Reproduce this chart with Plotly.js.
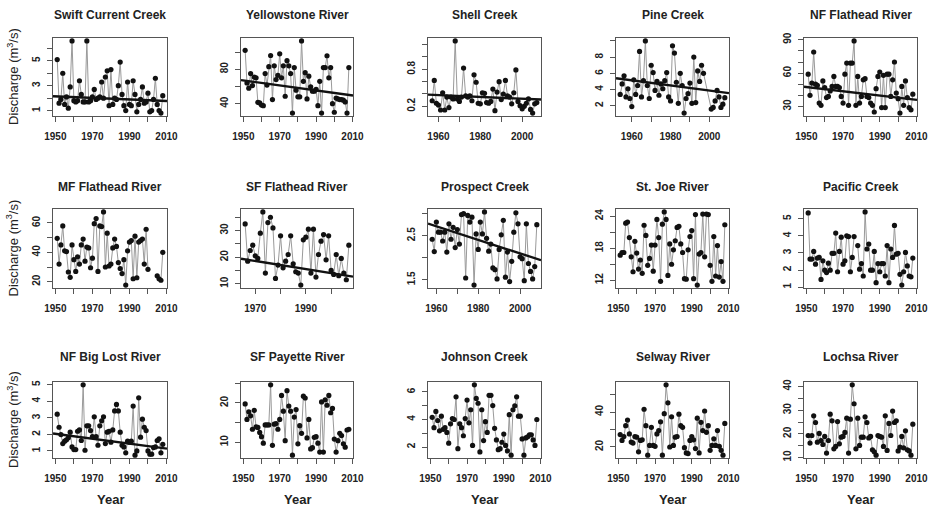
<!DOCTYPE html>
<html><head><meta charset="utf-8">
<script src="https://cdn.plot.ly/plotly-3.0.1.min.js"></script>
<style>html,body{margin:0;padding:0;background:#fff}#chart{width:935px;height:509px}</style>
</head><body><div id="chart"></div>
<script>
// ---------------- DATA ----------------
const siteNames = ["Swift Current Creek","Yellowstone River","Shell Creek","Pine Creek","NF Flathead River",
  "MF Flathead River","SF Flathead River","Prospect Creek","St. Joe River","Pacific Creek",
  "NF Big Lost River","SF Payette River","Johnson Creek","Selway River","Lochsa River"];

const swiftStart = 1951;
const swiftQ = [5.1,1.6,1.9,4.0,1.5,2.1,1.2,2.9,6.6,1.8,1.7,1.8,3.4,2.3,1.7,1.7,6.6,1.7,1.8,2.1,2.7,1.9,2.0,2.1,3.3,2.0,3.7,4.2,1.4,4.3,1.5,2.0,1.9,3.0,4.9,2.3,1.4,1.0,3.3,1.5,1.4,3.4,2.3,0.9,1.5,1.9,2.9,1.6,1.7,2.4,0.9,1.0,1.9,3.6,1.5,1.0,0.8,2.2];
const swiftTrendYears = [1950, 2010], swiftTrendQ = [2.15, 1.77];

const yellowStart = 1951;
const yellowQ = [102,64,58,75,61,71,70,41.6,40.8,38.4,37.6,75,61.6,83,96,44.7,84,68,73,98,70,84,48.6,90,84,75,29,82,55.7,48,48,113,66,76,45.5,72,59.6,54.5,54.5,56.5,37.6,66,29,82,82,95.7,70,82,40,30,46.6,45.5,44.7,44.7,44,42,29,82];
const yellowTrendYears = [1950, 2010], yellowTrendQ = [67, 49.5];

const shellStart = 1957;
const shellQ = [0.29,0.62,0.25,0.22,0.14,0.42,0.14,0.35,0.18,0.35,0.32,1.26,0.32,0.28,0.35,0.82,0.37,0.35,0.37,0.29,0.71,0.59,0.25,0.24,0.42,0.41,0.26,0.25,0.28,0.48,0.13,0.43,0.60,0.31,0.40,0.62,0.37,0.35,0.24,0.42,0.79,0.28,0.21,0.16,0.20,0.25,0.32,0.15,0.09,0.24,0.26];
const shellTrendYears = [1955, 2009], shellTrendQ = [0.39, 0.31];

const pineStartA = 1954, pineStartB = 2001;
const pineQ = [3.4,4.7,5.7,3.1,4.1,2.9,1.9,5.2,3.4,4.5,8.7,3.1,5.1,10.0,4.5,2.9,7.0,6.1,3.9,5.0,3.3,4.7,4.1,5.1,6.1,3.1,2.6,9.4,8.5,4.9,2.3,6.0,4.5,1.1,2.9,3.5,4.8,2.3,8.0,2.4,6.3,5.0,7.0,6.0,
               1.6,1.8,2.6,3.9,3.1,1.8,2.2,3.0];
const pineTrendYears = [1952, 2009], pineTrendQ = [5.4, 3.6];

const nfFlatStart = 1951;
const nfFlatQ = [59,40,51,79,50,49,33,31,53,47,38,39,44,48,57,48,48,47,39,33,59,69,31,69,69,89,31,57,33,39,54,55,39,38,33,31,25,46,57,61,29,58,29,59,59,39,54,70,42,37,24,48,31,53,38,29,27,41];
const nfFlatTrendYears = [1950, 2010], nfFlatTrendQ = [47.5, 36];

const mfFlatStart = 1951;
const mfFlatQ = [49.5,32,45,58,41,40.5,26.6,23,45,35,27,37,32,45,49,34,43.6,43,29.5,36,59.5,63,27,58,57.5,67.5,30,53,30.7,32,43,49,44,33,29,25.5,35,17.7,41,47,48,22,51,22.7,47,48,49,32,55.7,28.4,null,null,null,null,24,22,21,40];

const sfFlatStart = 1966;
const sfFlatQ = [32.5,18.5,22.5,24.5,20.5,19.5,29,37,14,33,35,31,12,17,28,16,18.5,21,28,17.5,14.5,14,9.5,26.5,27.5,30.5,14,30.5,12.5,21,26,28.5,19,28,15,13.5,21,13,19.5,14,11.5,24.5];
const sfFlatTrendYears = [1965, 2009], sfFlatTrendQ = [19.3, 12.6];

const prospectStart = 1958;
const prospectQ = [2.42,2.14,2.81,2.58,2.58,2.38,2.58,2.13,2.77,2.42,2.69,2.23,2.64,2.31,2.98,3.0,1.54,2.96,2.81,2.92,1.38,2.54,2.19,2.81,2.54,3.04,2.44,2.15,2.31,1.77,1.73,1.52,2.19,2.52,2.85,1.56,2.13,1.46,1.92,2.58,3.02,2.77,2.02,1.98,1.48,2.77,1.87,1.69,1.52,1.8,2.75];
const prospectTrendYears = [1957, 2009], prospectTrendQ = [2.76, 1.96];

const stJoeStart = 1951;
const stJoeQ = [16.7,17.2,17.2,22.7,22.9,20.0,16.4,13.6,19.3,17.1,14.1,15.8,13.3,22.3,20.4,14.8,16.1,18.6,13.7,18.6,23.4,20.0,11.8,22.5,24.8,23.4,12.9,18.8,15.0,17.7,19.4,21.9,22.1,18.8,17.2,12.3,12.2,17.7,20.2,21.3,12.3,24.3,11.1,16.9,17.2,24.4,16.4,24.4,24.3,14.8,11.8,20.2,12.8,18.5,12.6,15.5,11.8,22.4];

const pacificStart = 1951;
const pacificQ = [5.34,2.64,2.64,3.09,2.34,2.7,2.74,1.45,2.54,1.99,1.85,2.4,1.99,2.97,2.97,4.16,1.9,3.09,3.92,2.34,2.54,4.0,3.96,1.9,2.74,3.96,null,3.43,2.05,2.38,1.65,5.4,3.23,3.52,1.99,1.99,3.09,1.26,2.38,1.9,2.38,2.38,1.65,3.43,1.26,3.23,2.74,4.61,2.93,2.97,1.75,1.12,1.9,3.03,2.24,1.65,1.6,2.7];

const bigLostStart = 1951;
const bigLostQ = [3.22,2.43,1.99,1.44,1.59,1.67,1.79,2.13,1.24,1.08,1.08,2.19,2.27,1.63,5.0,1.04,2.52,2.52,2.23,1.87,3.06,1.87,1.34,2.52,2.82,3.06,1.44,2.13,2.19,1.53,2.27,3.42,3.81,3.42,2.13,1.34,1.24,0.88,1.59,1.53,1.59,3.71,0.74,1.0,4.21,1.83,2.92,2.43,2.23,1.0,0.8,0.8,1.2,1.24,1.63,1.73,0.88,1.4];
const bigLostTrendYears = [1950, 2010], bigLostTrendQ = [2.03, 1.14];

const payetteStart = 1951;
const payetteQ = [19.75,15.8,17.75,16.7,13.3,18.1,13.9,13.75,12.5,11.4,9.75,14.4,14.4,14.4,24.6,9.2,14.6,14.75,13.3,15.8,21.9,17.9,10.4,23.1,19.2,17.9,6.7,16.4,18.3,9.6,14.2,12.25,21.7,21.25,11.1,15.8,8.3,8.6,11.25,11.4,9.75,7.5,20.25,7.5,20.8,19.4,21.9,17.5,18.6,10.8,7.5,10.4,12.25,11.7,9.6,8.75,13.1,13.3];

const johnsonStart = 1951;
const johnsonQ = [4.16,3.41,4.59,3.93,3.18,4.24,3.29,3.41,3.06,2.28,3.69,4.07,4.0,5.65,1.88,3.69,3.41,2.82,4.07,5.41,3.76,4.71,2.12,6.52,5.53,5.18,1.65,4.71,2.47,3.84,3.06,5.76,5.76,5.01,3.36,2.52,1.81,1.88,2.35,2.94,2.12,1.72,4.35,1.41,4.71,5.0,5.65,4.24,4.24,2.59,1.41,2.66,2.75,2.89,2.89,2.52,2.12,4.0];

const selwayStart = 1951;
const selwayQ = [27.1,23.75,26,32.2,35.4,27.5,22.8,22.25,26,25.6,17.2,23.75,24.1,41.6,32.2,15.3,20.9,31.25,20.9,20.4,27.5,29.4,34.4,15.3,39.1,55.6,45.3,20,37.3,20.9,25.6,26,38.8,32.2,31.25,19.6,16.6,16.25,23.75,26,24.1,19.1,36.5,16.6,34.1,29.4,40.6,28.4,32.2,18.1,20.9,24.7,20.9,29.4,20.4,18.1,15.3,33.5];

const lochsaStart = 1951;
const lochsaQ = [19.3,16.1,19.3,27.6,24.8,16.5,20.2,17.2,15.5,18.9,11.9,17.2,28.3,25.5,13.7,14.7,25.2,15.8,18.6,18.9,20.6,26.6,11.9,26.2,40.7,32.7,13.7,26.6,15.1,18.6,18.6,27.2,24.8,18.3,18.9,13.3,12.4,11.0,19.3,18.9,18.6,14.7,27.6,13.0,24.4,19.3,29.6,24.8,25.5,12.8,14.4,18.9,14.1,21.3,13.3,12.8,11.0,24.1];

// tick values and labels
const xTicksStd = [1950,1960,1970,1980,1990,2000,2010], xLabelsStd = ["1950","","1970","","1990","","2010"];
const xTicks60 = [1960,1970,1980,1990,2000], xLabels60 = ["1960","","1980","","2000"];
const xTicks70 = [1970,1980,1990,2000], xLabels70 = ["1970","","1990",""];

const swiftYT = [1,2,3,4,5,6], swiftYL = ["1","","3","","5",""];
const yellowYT = [40,60,80,100], yellowYL = ["40","","80",""];
const shellYT = [0.2,0.4,0.6,0.8,1.0,1.2], shellYL = ["0.2","","","0.8","",""];
const pineYT = [2,4,6,8,10], pineYL = ["2","4","6","8",""];
const nfFlatYT = [30,40,50,60,70,80,90], nfFlatYL = ["30","","","60","","","90"];
const mfFlatYT = [20,30,40,50,60], mfFlatYL = ["20","","40","","60"];
const sfFlatYT = [10,15,20,25,30,35], sfFlatYL = ["10","","20","","30",""];
const prospectYT = [1.5,2.0,2.5,3.0], prospectYL = ["1.5","","2.5",""];
const stJoeYT = [12,15,18,21,24], stJoeYL = ["12","","18","","24"];
const pacificYT = [1,2,3,4,5], pacificYL = ["1","2","3","4","5"];
const bigLostYT = [1,2,3,4,5], bigLostYL = ["1","2","3","4","5"];
const payetteYT = [10,15,20,25], payetteYL = ["10","","20",""];
const johnsonYT = [2,3,4,5,6], johnsonYL = ["2","","4","","6"];
const selwayYT = [20,30,40,50], selwayYL = ["20","","40",""];
const lochsaYT = [10,15,20,25,30,35,40], lochsaYL = ["10","","20","","30","","40"];

const yLabelText = "Discharge (m<sup>3</sup>/s)";
const xLabelText = "Year";

// ---------------- BUILD ----------------
function yrs(start, n){ const a=[]; for(let i=0;i<n;i++) a.push(start+i); return a; }
const pineYears = yrs(pineStartA, 44).concat(yrs(pineStartB, 8));

const panels = [
 {q:swiftQ, x:yrs(swiftStart,swiftQ.length), yt:swiftYT, yl:swiftYL, xt:xTicksStd, xl:xLabelsStd, tY:swiftTrendYears, tQ:swiftTrendQ},
 {q:yellowQ, x:yrs(yellowStart,yellowQ.length), yt:yellowYT, yl:yellowYL, xt:xTicksStd, xl:xLabelsStd, tY:yellowTrendYears, tQ:yellowTrendQ},
 {q:shellQ, x:yrs(shellStart,shellQ.length), yt:shellYT, yl:shellYL, xt:xTicks60, xl:xLabels60, tY:shellTrendYears, tQ:shellTrendQ},
 {q:pineQ, x:pineYears, yt:pineYT, yl:pineYL, xt:xTicks60, xl:xLabels60, tY:pineTrendYears, tQ:pineTrendQ},
 {q:nfFlatQ, x:yrs(nfFlatStart,nfFlatQ.length), yt:nfFlatYT, yl:nfFlatYL, xt:xTicksStd, xl:xLabelsStd, tY:nfFlatTrendYears, tQ:nfFlatTrendQ},
 {q:mfFlatQ, x:yrs(mfFlatStart,mfFlatQ.length), yt:mfFlatYT, yl:mfFlatYL, xt:xTicksStd, xl:xLabelsStd},
 {q:sfFlatQ, x:yrs(sfFlatStart,sfFlatQ.length), yt:sfFlatYT, yl:sfFlatYL, xt:xTicks70, xl:xLabels70, tY:sfFlatTrendYears, tQ:sfFlatTrendQ},
 {q:prospectQ, x:yrs(prospectStart,prospectQ.length), yt:prospectYT, yl:prospectYL, xt:xTicks60, xl:xLabels60, tY:prospectTrendYears, tQ:prospectTrendQ},
 {q:stJoeQ, x:yrs(stJoeStart,stJoeQ.length), yt:stJoeYT, yl:stJoeYL, xt:xTicksStd, xl:xLabelsStd},
 {q:pacificQ, x:yrs(pacificStart,pacificQ.length), yt:pacificYT, yl:pacificYL, xt:xTicksStd, xl:xLabelsStd},
 {q:bigLostQ, x:yrs(bigLostStart,bigLostQ.length), yt:bigLostYT, yl:bigLostYL, xt:xTicksStd, xl:xLabelsStd, tY:bigLostTrendYears, tQ:bigLostTrendQ},
 {q:payetteQ, x:yrs(payetteStart,payetteQ.length), yt:payetteYT, yl:payetteYL, xt:xTicksStd, xl:xLabelsStd},
 {q:johnsonQ, x:yrs(johnsonStart,johnsonQ.length), yt:johnsonYT, yl:johnsonYL, xt:xTicksStd, xl:xLabelsStd},
 {q:selwayQ, x:yrs(selwayStart,selwayQ.length), yt:selwayYT, yl:selwayYL, xt:xTicksStd, xl:xLabelsStd},
 {q:lochsaQ, x:yrs(lochsaStart,lochsaQ.length), yt:lochsaYT, yl:lochsaYL, xt:xTicksStd, xl:xLabelsStd}
];

const W = 935, H = 509;
const colBox = [[53,167],[241,353],[428,541],[616,729],[804,917]];
const rowBox = [[38,116],[209,288],[382,458]];
const titleY = [15,187,357];
const FONT = "Liberation Sans, Arial, sans-serif";
const TXT = "#222";

function padRange(arr){
  const v = arr.filter(d => d !== null && d !== undefined);
  const lo = Math.min(...v), hi = Math.max(...v), s = hi - lo;
  return [lo - 0.04*s, hi + 0.04*s];
}

const data = [], annotations = [];
const layout = {
  width: W, height: H, margin:{l:0,r:0,t:0,b:0},
  paper_bgcolor:"#fff", plot_bgcolor:"#fff", showlegend:false,
  font:{family:FONT, color:TXT}
};

panels.forEach((p, i) => {
  const r = Math.floor(i/5), c = i % 5, n = i + 1;
  const xa = n === 1 ? "x" : "x"+n, ya = n === 1 ? "y" : "y"+n;
  const xr = padRange(p.x), yr = padRange(p.q);
  data.push({type:"scatter", mode:"lines", x:p.x, y:p.q, xaxis:xa, yaxis:ya,
    line:{color:"#9a9a9a", width:1}, connectgaps:false, hoverinfo:"skip"});
  data.push({type:"scatter", mode:"markers", x:p.x, y:p.q, xaxis:xa, yaxis:ya,
    marker:{color:"#111", size:5.2}, hoverinfo:"skip"});
  if (p.tY) {
    const slope = (p.tQ[1]-p.tQ[0])/(p.tY[1]-p.tY[0]);
    const tx = [xr[0], xr[1]];
    const ty = tx.map(x => p.tQ[0] + slope*(x - p.tY[0]));
    data.push({type:"scatter", mode:"lines", x:tx, y:ty, xaxis:xa, yaxis:ya,
      line:{color:"#111", width:2.4}, hoverinfo:"skip"});
  }
  const axCommon = {showgrid:false, zeroline:false, showline:true, mirror:true, linecolor:"#555", linewidth:1,
    ticks:"outside", ticklen:5, tickwidth:1, tickcolor:"#555",
    tickfont:{family:FONT, size:10, color:TXT, weight:"bold"}, fixedrange:true};
  layout["xaxis"+(n===1?"":n)] = Object.assign({}, axCommon, {
    domain:[colBox[c][0]/W, colBox[c][1]/W], anchor:ya, range:xr,
    tickmode:"array", tickvals:p.xt, ticktext:p.xl, ticklabelstandoff:6});
  layout["yaxis"+(n===1?"":n)] = Object.assign({}, axCommon, {
    domain:[1-rowBox[r][1]/H, 1-rowBox[r][0]/H], anchor:xa, range:yr,
    tickmode:"array", tickvals:p.yt, ticktext:p.yl, tickangle:-90, ticklabelstandoff:3});
  annotations.push({xref:"paper", yref:"paper", x:(colBox[c][0]+colBox[c][1])/2/W, y:1-titleY[r]/H,
    text:siteNames[i], showarrow:false, xanchor:"center", yanchor:"middle",
    font:{family:FONT, size:12, color:TXT, weight:"bold"}});
  if (c === 0) {
    annotations.push({xref:"paper", yref:"paper", x:13/W, y:1-(rowBox[r][0]+rowBox[r][1])/2/H,
      text:yLabelText, textangle:-90, showarrow:false, xanchor:"center", yanchor:"middle",
      font:{family:FONT, size:13, color:TXT}});
  }
  if (r === 2) {
    annotations.push({xref:"paper", yref:"paper", x:(colBox[c][0]+colBox[c][1])/2/W, y:1-499/H,
      text:xLabelText, showarrow:false, xanchor:"center", yanchor:"middle",
      font:{family:FONT, size:13, color:TXT, weight:"bold"}});
  }
});
layout.annotations = annotations;

Plotly.newPlot("chart", data, layout, {displayModeBar:false, staticPlot:true});
</script></body></html>
